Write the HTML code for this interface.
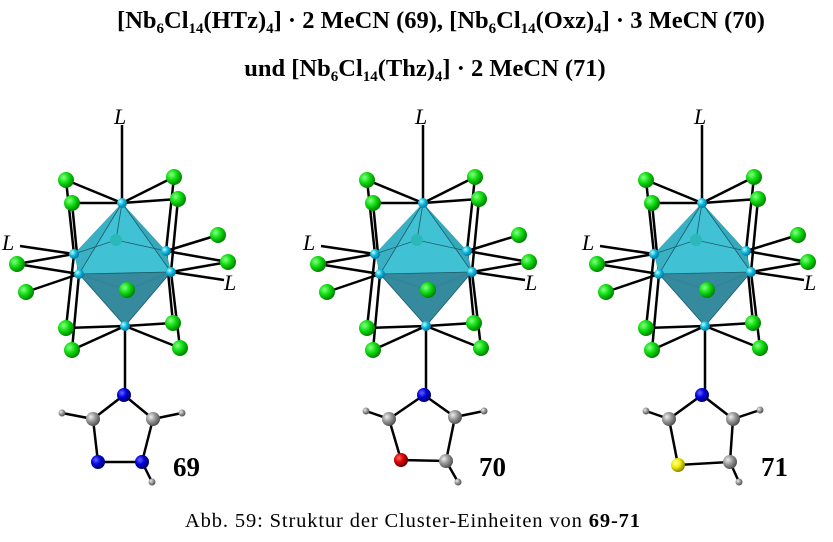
<!DOCTYPE html>
<html><head><meta charset="utf-8"><style>
body{margin:0;background:#fff;width:833px;height:542px;overflow:hidden}
svg{display:block}
.t{font-family:"Liberation Serif",serif;font-weight:bold;font-size:24.5px;fill:#000}
.L{font-family:"Liberation Serif",serif;font-style:italic;font-size:22px}
.n{font-family:"Liberation Serif",serif;font-weight:bold;font-size:27px}
.c{font-family:"Liberation Serif",serif;font-size:20.5px}
</style></head><body>
<svg width="833" height="542" viewBox="0 0 833 542" xmlns="http://www.w3.org/2000/svg">
<defs>
<radialGradient id="g" cx="35%" cy="35%" r="65%"><stop offset="0" stop-color="#8f8"/><stop offset="0.5" stop-color="#1d1"/><stop offset="1" stop-color="#080"/></radialGradient>
<radialGradient id="nb" cx="35%" cy="35%" r="65%"><stop offset="0" stop-color="#bff"/><stop offset="0.5" stop-color="#1bd"/><stop offset="1" stop-color="#07a"/></radialGradient>
<radialGradient id="bl" cx="35%" cy="35%" r="65%"><stop offset="0" stop-color="#66f"/><stop offset="0.5" stop-color="#00d"/><stop offset="1" stop-color="#006"/></radialGradient>
<radialGradient id="gr" cx="35%" cy="35%" r="65%"><stop offset="0" stop-color="#eee"/><stop offset="0.5" stop-color="#999"/><stop offset="1" stop-color="#555"/></radialGradient>
<radialGradient id="rd" cx="35%" cy="35%" r="65%"><stop offset="0" stop-color="#f66"/><stop offset="0.5" stop-color="#d00"/><stop offset="1" stop-color="#600"/></radialGradient>
<radialGradient id="ye" cx="35%" cy="35%" r="65%"><stop offset="0" stop-color="#ffa"/><stop offset="0.5" stop-color="#ee0"/><stop offset="1" stop-color="#880"/></radialGradient>
<g id="cl">
<g stroke="#000" stroke-width="2.5" fill="none">
<line x1="122" y1="125" x2="122" y2="203"/>
<line x1="125" y1="326" x2="125" y2="395"/>
<line x1="122" y1="203" x2="66" y2="180"/><line x1="122" y1="203" x2="72" y2="203"/>
<line x1="122" y1="203" x2="174" y2="177"/><line x1="122" y1="203" x2="178" y2="199"/>
<line x1="66" y1="180" x2="74" y2="254"/><line x1="72" y1="203" x2="79" y2="274"/>
<line x1="174" y1="177" x2="166" y2="251"/><line x1="178" y1="199" x2="171" y2="272"/>
<line x1="66" y1="328" x2="74" y2="254"/><line x1="72" y1="350" x2="79" y2="274"/>
<line x1="173" y1="323" x2="166" y2="251"/><line x1="180" y1="348" x2="171" y2="272"/>
<line x1="125" y1="326" x2="66" y2="328"/><line x1="125" y1="326" x2="72" y2="350"/>
<line x1="125" y1="326" x2="173" y2="323"/><line x1="125" y1="326" x2="180" y2="348"/>
<line x1="20" y1="246" x2="74" y2="254"/><line x1="17" y1="264" x2="74" y2="254"/><line x1="17" y1="264" x2="79" y2="274"/>
<line x1="26" y1="292" x2="79" y2="274"/>
<line x1="218" y1="235" x2="166" y2="251"/><line x1="228" y1="262" x2="166" y2="251"/><line x1="228" y1="262" x2="171" y2="272"/>
<line x1="224" y1="280" x2="171" y2="272"/>
<line x1="127" y1="290" x2="79" y2="274"/><line x1="127" y1="290" x2="171" y2="272"/>
</g>
<polygon points="122,203 74,254 79,274 125,326 171,272 166,251" fill="#2a8aa0" opacity="0.85"/>
<polygon points="122,203 79,274 171,272" fill="#3fc6d8" opacity="0.9"/>
<polygon points="125,326 79,274 171,272" fill="#33889c" opacity="0.9"/>
<polygon points="122,203 74,254 79,274" fill="#3ab0c4"/>
<polygon points="122,203 166,251 171,272" fill="#35a8bc"/>
<g stroke="#1a5a6a" stroke-width="0.8" fill="none"><polyline points="74,254 116,240 166,251"/><line x1="122" y1="203" x2="116" y2="240"/><line x1="79" y1="274" x2="171" y2="272"/><line x1="122" y1="203" x2="79" y2="274"/><line x1="122" y1="203" x2="171" y2="272"/><line x1="125" y1="326" x2="79" y2="274"/><line x1="125" y1="326" x2="171" y2="272"/></g>
<circle cx="116" cy="240" r="6" fill="#2bb8b8"/>
<g fill="url(#g)">
<circle cx="66" cy="180" r="8"/><circle cx="72" cy="203" r="8"/><circle cx="174" cy="177" r="8"/><circle cx="178" cy="199" r="8"/>
<circle cx="218" cy="235" r="8"/><circle cx="228" cy="262" r="8"/><circle cx="17" cy="264" r="8"/><circle cx="26" cy="292" r="8"/>
<circle cx="127" cy="290" r="8"/><circle cx="66" cy="328" r="8"/><circle cx="72" cy="350" r="8"/><circle cx="173" cy="323" r="8"/><circle cx="180" cy="348" r="8"/>
</g>
<g fill="url(#nb)">
<circle cx="122" cy="203" r="5"/><circle cx="74" cy="254" r="5"/><circle cx="79" cy="274" r="5"/><circle cx="166" cy="251" r="5"/><circle cx="171" cy="272" r="5"/><circle cx="125" cy="326" r="5"/>
</g>
<text class="L" x="114" y="124">L</text>
<text class="L" x="2" y="250">L</text>
<text class="L" x="224" y="290">L</text>
</g>
</defs>
<text class="t" x="441" y="28" text-anchor="middle">[Nb<tspan font-size="15" dy="5">6</tspan><tspan dy="-5">Cl</tspan><tspan font-size="15" dy="5">14</tspan><tspan dy="-5">(HTz)</tspan><tspan font-size="15" dy="5">4</tspan><tspan dy="-5">] · 2 MeCN (69), [Nb</tspan><tspan font-size="15" dy="5">6</tspan><tspan dy="-5">Cl</tspan><tspan font-size="15" dy="5">14</tspan><tspan dy="-5">(Oxz)</tspan><tspan font-size="15" dy="5">4</tspan><tspan dy="-5">] · 3 MeCN (70)</tspan></text>
<text class="t" x="425" y="76" text-anchor="middle">und [Nb<tspan font-size="15" dy="5">6</tspan><tspan dy="-5">Cl</tspan><tspan font-size="15" dy="5">14</tspan><tspan dy="-5">(Thz)</tspan><tspan font-size="15" dy="5">4</tspan><tspan dy="-5">] · 2 MeCN (71)</tspan></text>
<use href="#cl"/>
<use href="#cl" x="301"/>
<use href="#cl" x="580"/>
<g stroke="#000" stroke-width="2.5" fill="none"><polyline points="62,413 93,419 124,395 153,419 182,413"/><polyline points="93,419 98,462 142,462 153,419"/><line x1="142" y1="462" x2="152" y2="482"/></g>
<circle cx="62" cy="413" r="3.5" fill="url(#gr)"/><circle cx="182" cy="413" r="3.5" fill="url(#gr)"/><circle cx="152" cy="482" r="3.5" fill="url(#gr)"/>
<circle cx="93" cy="419" r="7" fill="url(#gr)"/><circle cx="153" cy="419" r="7" fill="url(#gr)"/>
<circle cx="124" cy="395" r="7" fill="url(#bl)"/><circle cx="98" cy="462" r="7" fill="url(#bl)"/><circle cx="142" cy="462" r="7" fill="url(#bl)"/>
<text class="n" x="173" y="476">69</text>
<g stroke="#000" stroke-width="2.5" fill="none"><polyline points="366,411 389,419 424,395 455,417 484,411"/><polyline points="389,419 401,460 446,461 455,417"/><line x1="446" y1="461" x2="458" y2="482"/></g>
<circle cx="366" cy="411" r="3.5" fill="url(#gr)"/><circle cx="484" cy="411" r="3.5" fill="url(#gr)"/><circle cx="458" cy="482" r="3.5" fill="url(#gr)"/>
<circle cx="389" cy="419" r="7" fill="url(#gr)"/><circle cx="455" cy="417" r="7" fill="url(#gr)"/><circle cx="446" cy="461" r="7" fill="url(#gr)"/>
<circle cx="424" cy="395" r="7" fill="url(#bl)"/><circle cx="401" cy="460" r="7" fill="url(#rd)"/>
<text class="n" x="479" y="476">70</text>
<g stroke="#000" stroke-width="2.5" fill="none"><polyline points="646,411 669,419 702,395 733,419 760,410"/><polyline points="669,419 678,465 730,462 733,419"/><line x1="730" y1="462" x2="739" y2="482"/></g>
<circle cx="646" cy="411" r="3.5" fill="url(#gr)"/><circle cx="760" cy="410" r="3.5" fill="url(#gr)"/><circle cx="739" cy="482" r="3.5" fill="url(#gr)"/>
<circle cx="669" cy="419" r="7" fill="url(#gr)"/><circle cx="733" cy="419" r="7" fill="url(#gr)"/><circle cx="730" cy="462" r="7" fill="url(#gr)"/>
<circle cx="702" cy="395" r="7" fill="url(#bl)"/><circle cx="678" cy="465" r="7" fill="url(#ye)"/>
<text class="n" x="761" y="476">71</text>
<text class="c" x="185" y="527" textLength="455" lengthAdjust="spacing">Abb. 59: Struktur der Cluster-Einheiten von <tspan font-weight="bold">69-71</tspan></text>
</svg>
</body></html>
